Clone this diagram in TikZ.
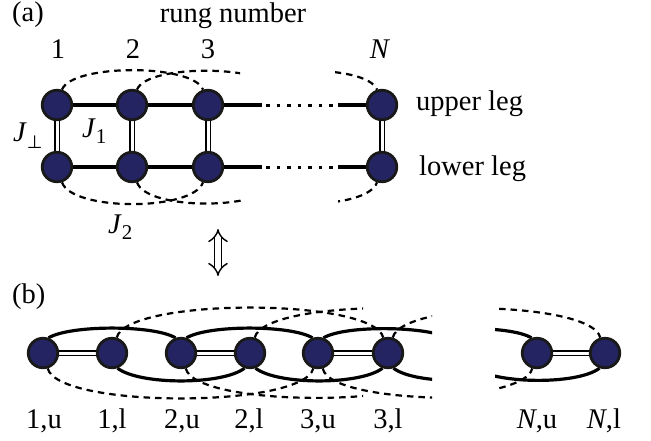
\documentclass[tikz,border=0pt]{standalone}
\usepackage{fontspec}
\setmainfont{Liberation Serif}
\newfontfamily\symfnt{DejaVu Sans}
\usetikzlibrary{arrows.meta}
\definecolor{sitecol}{RGB}{36,36,98}
\pgfdeclarelayer{bg}
\pgfsetlayers{bg,main}
\tikzset{
  site/.style={circle, draw=black!90, line width=2.8pt, fill=sitecol, minimum size=29.5pt, inner sep=0pt},
  ghost/.style={circle, minimum size=29.5pt, inner sep=0pt},
  leg/.style={line width=3.2pt},
  rung/.style={draw=black, double=white, double distance=3pt, line width=1.6pt},
  nnn/.style={line width=2.2pt, dash pattern=on 6.5pt off 5pt},
  gap/.style={line width=3pt, dash pattern=on 3.5pt off 7pt},
  lab/.style={font=\fontsize{28.5}{30}\selectfont, inner sep=0pt},
  equivarrow/.style={draw=black, double=white, double distance=5.5pt, line width=1.4pt, {Implies}-{Implies}},
}
\begin{document}
\begin{tikzpicture}[x=1pt,y=-1pt]
\useasboundingbox (0,0) rectangle (651,440);

% ---------- (a) ladder ----------
\node[site] (u1) at (57,105) {};
\node[site] (u2) at (132,105) {};
\node[site] (u3) at (208,105) {};
\node[site] (uN) at (382,105) {};
\node[site] (l1) at (57,167) {};
\node[site] (l2) at (132,167) {};
\node[site] (l3) at (208,167) {};
\node[site] (lN) at (382,167) {};
\node[ghost] (u4) at (283,105) {};
\node[ghost] (l4) at (283,167) {};
\node[ghost] (uL) at (232,105) {};
\node[ghost] (lL) at (232,167) {};
\coordinate (ua) at (262,105);
\coordinate (ub) at (266,105);
\coordinate (uc) at (334,105);
\coordinate (ud) at (338,105);
\coordinate (la) at (262,167);
\coordinate (lb) at (266,167);
\coordinate (lc) at (334,167);
\coordinate (ld) at (338,167);

% ---------- (b) chain ----------
\node[site] (a1) at (43,353) {};
\node[site] (b1) at (112,353) {};
\node[site] (a2) at (181,353) {};
\node[site] (b2) at (250,353) {};
\node[site] (a3) at (318,353) {};
\node[site] (b3) at (388,353) {};
\node[site] (aN) at (537,353) {};
\node[site] (bN) at (605,353) {};
\node[ghost] (a4) at (456,353) {};
\node[ghost] (b4) at (525,353) {};
\node[ghost] (a5) at (594,353) {};
\node[ghost] (b5) at (663,353) {};
\node[ghost] (aM) at (400,353) {};
\node[ghost] (bM) at (467,353) {};
\node[ghost] (aL) at (262,353) {};
\node[ghost] (bL) at (330,353) {};

\begin{pgfonlayer}{bg}
  % legs of the ladder
  \draw[leg] (u1) -- (u2) -- (u3) -- (ua);
  \draw[leg] (l1) -- (l2) -- (l3) -- (la);
  \draw[gap] (ub) -- (uc);
  \draw[gap] (lb) -- (lc);
  \draw[leg] (ud) -- (uN);
  \draw[leg] (ld) -- (lN);
  % rungs
  \draw[rung] (u1) -- (l1);
  \draw[rung] (u2) -- (l2);
  \draw[rung] (u3) -- (l3);
  \draw[rung] (uN) -- (lN);
  % J2 dashed (a)
  \draw[nnn] (u1.72) .. controls +(10,-26) and +(-10,-26) .. (u3.108);
  \draw[nnn] (l1.-72) .. controls +(10,29) and +(-10,29) .. (l3.-108);
  \begin{scope}
    \clip (0,0) rectangle (240,230);
    \draw[nnn] (u2.72) .. controls +(10,-26) and +(-10,-26) .. (u4.108);
  \end{scope}
  \begin{scope}
    \clip (0,0) rectangle (243,230);
    \draw[nnn] (l2.-72) .. controls +(10,29) and +(-10,29) .. (l4.-108);
  \end{scope}
  \begin{scope}
    \clip (335,0) rectangle (651,140);
    \draw[nnn] (uL.72) .. controls +(10,-26) and +(-10,-26) .. (uN.108);
  \end{scope}
  \begin{scope}
    \clip (338,140) rectangle (651,230);
    \draw[nnn] (lL.-72) .. controls +(10,29) and +(-10,29) .. (lN.-108);
  \end{scope}

  % chain rungs
  \draw[rung] (a1) -- (b1);
  \draw[rung] (a2) -- (b2);
  \draw[rung] (a3) -- (b3);
  \draw[rung] (aN) -- (bN);
  % J1 solid arcs
  \draw[leg] (a1.70) .. controls +(22,-13) and +(-22,-13) .. (a2.110);
  \draw[leg] (a2.70) .. controls +(22,-13) and +(-22,-13) .. (a3.110);
  \draw[leg] (b1.-70) .. controls +(22,17) and +(-22,17) .. (b2.-110);
  \draw[leg] (b2.-70) .. controls +(22,17) and +(-22,17) .. (b3.-110);
  % J2 dashed arcs
  \draw[nnn] (b1.73) .. controls +(10,-40) and +(-10,-40) .. (b3.107);
  \draw[nnn] (a1.-73) .. controls +(10,40) and +(-10,40) .. (a3.-107);
  \begin{scope}
    \clip (0,280) rectangle (363,440);
    \draw[nnn] (b2.73) .. controls +(10,-40) and +(-10,-40) .. (b4.107);
    \draw[nnn] (a2.-73) .. controls +(10,40) and +(-10,40) .. (a4.-107);
  \end{scope}
  \begin{scope}
    \clip (0,280) rectangle (432,440);
    \draw[leg] (a3.70) .. controls +(22,-13) and +(-22,-13) .. (a4.110);
    \draw[leg] (b3.-70) .. controls +(22,17) and +(-22,17) .. (b4.-110);
    \draw[nnn] (b3.73) .. controls +(10,-40) and +(-10,-40) .. (b5.107);
    \draw[nnn] (a3.-73) .. controls +(8,40) and +(-10,40) .. (a5.-107);
  \end{scope}
  \begin{scope}
    \clip (495,280) rectangle (651,440);
    \draw[leg] (aM.70) .. controls +(22,-13) and +(-22,-13) .. (aN.110);
    \draw[leg] (bM.-70) .. controls +(22,17) and +(-22,17) .. (bN.-110);
    \draw[nnn] (bL.73) .. controls +(10,-40) and +(-10,-40) .. (bN.107);
    \draw[nnn] (aL.-73) .. controls +(10,40) and +(-10,40) .. (aN.-107);
  \end{scope}
\end{pgfonlayer}

% ---------- labels ----------
\node[lab, anchor=base west] (ta) at (12,21) {(a)};
\node[lab, anchor=base] (trung) at (233,22) {rung number};
\node[lab, anchor=base] (n1) at (58,58) {1};
\node[lab, anchor=base] (n2) at (133,58) {2};
\node[lab, anchor=base] (n3) at (208,58) {3};
\node[lab, anchor=base] (nN) at (380,58) {\textit{N}};
\node[lab, anchor=base west] (tup) at (416,110) {upper leg};
\node[lab, anchor=base west] (tlow) at (419,175) {lower leg};
\node[lab, anchor=base west] (jperp) at (13,141) {\textit{J}\raisebox{-7pt}{\fontsize{18}{18}\symfnt ⊥}};
\node[lab, anchor=base west] (jone) at (82,137) {\textit{J}\raisebox{-6pt}{\fontsize{21}{21}\selectfont 1}};
\node[lab, anchor=base west] (jtwo) at (108,233) {\textit{J}\raisebox{-6pt}{\fontsize{21}{21}\selectfont 2}};
\coordinate (eqtop) at (218,229);
\coordinate (eqbot) at (218,276);
\draw[equivarrow] (eqtop) -- (eqbot);
\node[lab, anchor=base west] (tb) at (12,303) {(b)};
\node[lab, anchor=base] (c1) at (44,428) {1,u};
\node[lab, anchor=base] (c2) at (112,428) {1,l};
\node[lab, anchor=base] (c3) at (182,428) {2,u};
\node[lab, anchor=base] (c4) at (249,428) {2,l};
\node[lab, anchor=base] (c5) at (318,428) {3,u};
\node[lab, anchor=base] (c6) at (388,428) {3,l};
\node[lab, anchor=base] (c7) at (537,428) {\textit{N},u};
\node[lab, anchor=base] (c8) at (604,428) {\textit{N},l};
\end{tikzpicture}
\end{document}
